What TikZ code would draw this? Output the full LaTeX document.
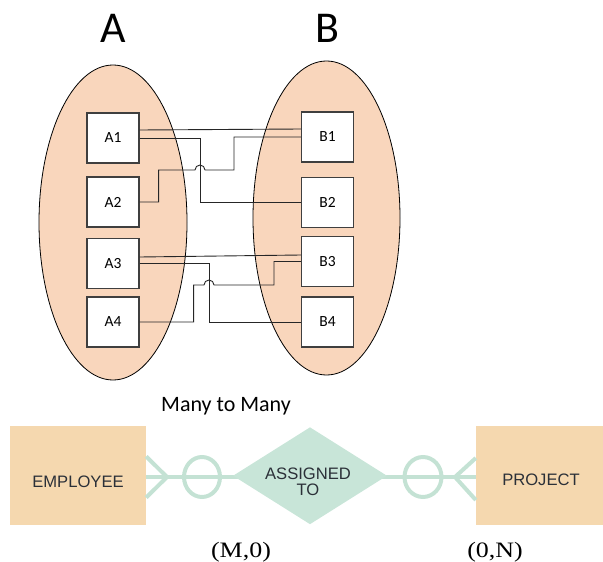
\documentclass[tikz,border=0pt]{standalone}
\usepackage{fontspec}
\setmainfont{Carlito}
\newfontfamily\erfont{Liberation Sans}
\newfontfamily\tmfont{Liberation Serif}
\usetikzlibrary{shapes.geometric}

\definecolor{peach}{HTML}{F9D6BC}
\definecolor{tan}{HTML}{F5D8AF}
\definecolor{mint}{HTML}{C8E5D8}
\definecolor{mintline}{HTML}{C4E2D4}
\definecolor{boxedge}{HTML}{3F3F3F}
\definecolor{ertext}{HTML}{2B3038}

\begin{document}
\begin{tikzpicture}[x=1pt,y=-1pt,
  setshape/.style={draw=black, fill=peach, line width=0.8pt, ellipse, inner sep=0pt},
  title/.style={font=\fontsize{44}{44}\selectfont},
  item/.style={draw=boxedge, fill=white, line width=1.2pt, minimum width=52pt,
    minimum height=50pt, inner sep=0pt, font=\fontsize{15.5}{18}\selectfont},
  wire/.style={draw=black!85, line width=0.9pt},
  entity/.style={fill=tan, minimum width=136pt, minimum height=99pt, inner sep=0pt,
    text=ertext, font=\erfont\fontsize{16.6}{16}\selectfont},
  erline/.style={draw=mintline, line width=4pt},
  pair/.style={font=\tmfont\fontsize{22}{22}\selectfont, anchor=base}]

\useasboundingbox (0,0) rectangle (603,562);

% the two sets
\node[setshape, minimum width=148pt, minimum height=315pt] (setA) at (113,222.5) {};
\node[setshape, minimum width=147pt, minimum height=314pt] (setB) at (326.5,218) {};
\node[title] (titleA) at (113,28) {A};
\node[title] (titleB) at (327,28) {B};

% members
\node[item] (A1) at (113,138) {A1};
\node[item] (A2) at (113,202) {A2};
\node[item] (A3) at (113,263.5) {A3};
\node[item] (A4) at (113,322) {A4};
\node[item] (B1) at (327.5,137) {B1};
\node[item] (B2) at (327.5,202.5) {B2};
\node[item] (B3) at (327.5,261.5) {B3};
\node[item] (B4) at (327.5,322) {B4};

% pairings
\draw[wire] ([yshift=8pt]A1.east) -- ([yshift=8pt]B1.west);
\draw[wire] (A1.east) -- ++(61,0) |- (B2.west);
\draw[wire] (A2.east) -- ++(19,0) -- ++(0,-32) -- (195,170)
  arc[start angle=180, end angle=0, radius=5pt] -- (234,170) |- (B1.west);
\draw[wire] ([yshift=6.5pt]A3.east) -- ([yshift=6.5pt]B3.west);
\draw[wire] (A3.east) -- ++(70,0) |- (B4.west);
\draw[wire] (A4.east) -- ++(54,0) -- ++(0,-37) -- (204,285)
  arc[start angle=180, end angle=0, radius=5pt] -- (274,285) |- (B3.west);

\node[font=\fontsize{22}{22}\selectfont, anchor=base] (caption) at (226,411) {Many to Many};

% ER notation
\node[entity, text height=24pt, text depth=0pt] (emp) at (78,475.5) {EMPLOYEE};
\node[entity, minimum width=130pt, text height=20.5pt, text depth=0pt] (proj) at (541,475.5) {PROJECT};

\draw[erline] ([yshift=-1.5pt]emp.east) -- ([yshift=-1.5pt]proj.west);
\draw[erline] ([yshift=19pt]emp.east) -- (167,477) -- ([yshift=-22pt]emp.east);
\draw[erline] ([yshift=17.5pt]proj.west) -- (455,477) -- ([yshift=-24.5pt]proj.west);
\draw[erline] (202,477) ellipse [x radius=18, y radius=20];
\draw[erline] (423,477) ellipse [x radius=18.5, y radius=20];

\node[diamond, fill=mint, minimum width=154pt, minimum height=97pt, inner sep=0pt] (assign) at (310,475.75) {};
\node[anchor=north, inner sep=0pt, align=center, text=ertext,
  font=\erfont\fontsize{16.6}{16}\selectfont] (assigntext) at (308,468) {ASSIGNED\\TO};

\node[pair] (card1) at (241,557) {\scalebox{1.18}[1]{(M,0)}};
\node[pair] (card2) at (495,557) {\scalebox{1.18}[1]{(0,N)}};
\end{tikzpicture}
\end{document}
